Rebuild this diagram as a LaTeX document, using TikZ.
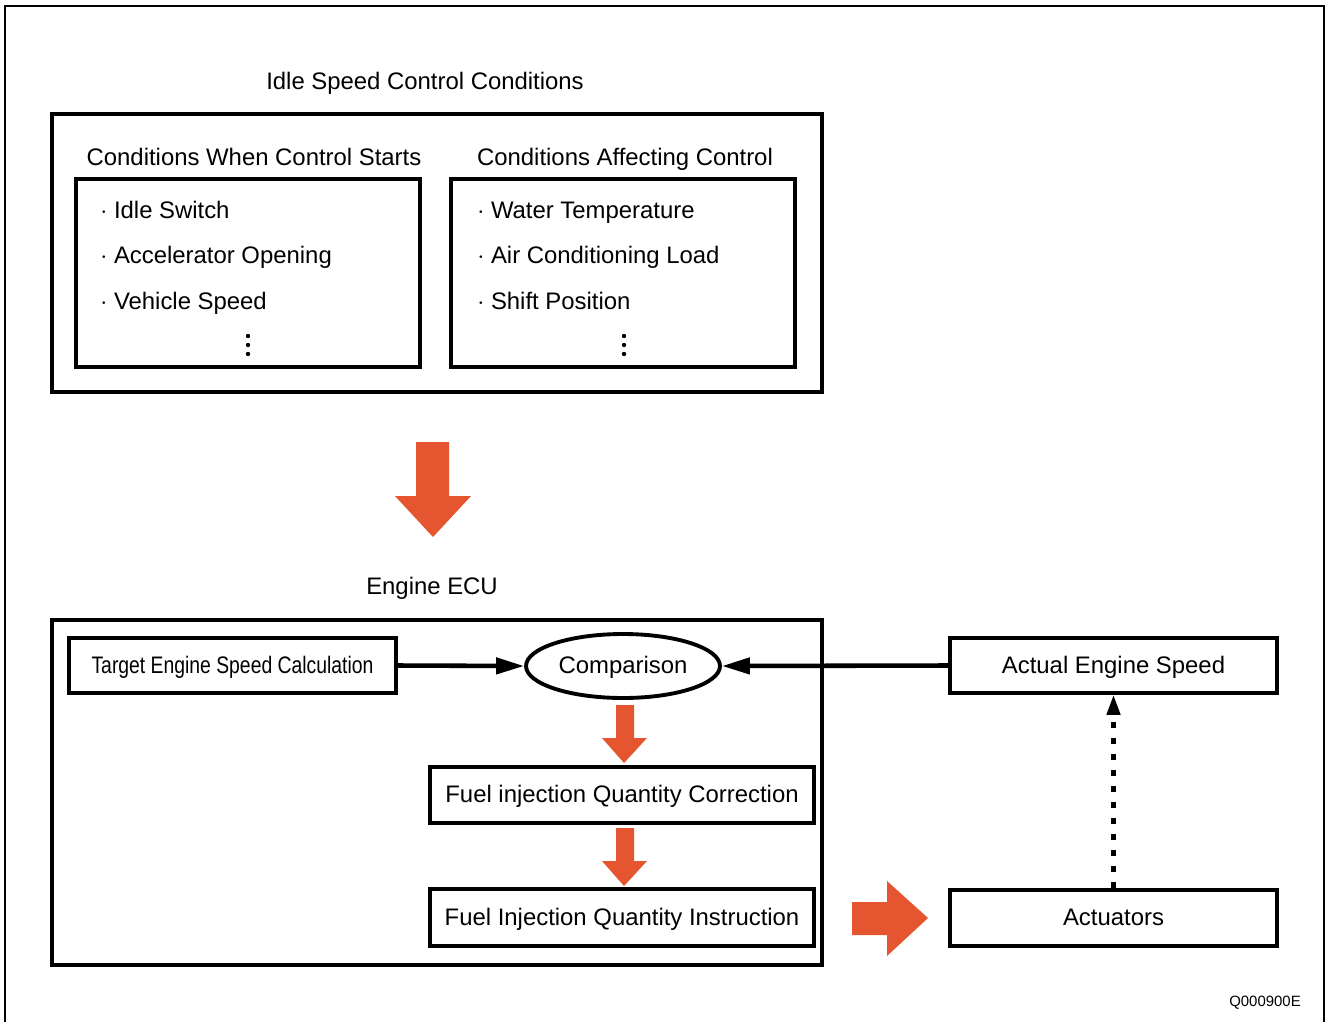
\documentclass[tikz,border=0pt]{standalone}
\usepackage{fontspec}
\setmainfont{Liberation Sans}
\newfontfamily\narrowfont[FakeStretch=0.81]{Liberation Sans}
\usepackage{tikz}
\usetikzlibrary{shapes.geometric, arrows.meta, calc}
\definecolor{flowred}{RGB}{228,85,48}

\begin{document}
\begin{tikzpicture}[x=0.02cm, y=-0.02cm,
    font=\fontsize{13.6}{16}\selectfont,
    every node/.append style={text height=0.95em, text depth=0.08em},
    frame/.style={draw, line width=2.4pt, inner sep=0pt},
    box/.style={draw, line width=2pt, inner sep=0pt, minimum height=1.1cm},
    item/.style={anchor=west, inner sep=0pt},
    link/.style={line width=2.6pt, -{Triangle[length=0.56cm, width=0.32cm]}},
    bigarrow/.style={fill=flowred}]
    \useasboundingbox (0,0) rectangle (1327,1021);

    % Outer frame
    \draw[line width=1.2pt] (5,1030) -- (5,6) -- (1324,6) -- (1324,1030);

    % Idle speed control conditions
    \node (idletitle) at (425,82) {Idle Speed Control Conditions};
    \node[frame, minimum width=15.4cm, minimum height=5.56cm] (idlebox) at (437,253) {};

    \node (starttitle) at (254,158) {Conditions When Control Starts};
    \node[box, minimum width=6.88cm, minimum height=3.76cm] (startbox) at (248,273) {};
    \node[item] (idlesw) at (100,211) {$\cdot$ Idle Switch};
    \node[item] (accel) at (100,256) {$\cdot$ Accelerator Opening};
    \node[item] (vspeed) at (100,302) {$\cdot$ Vehicle Speed};

    \node (affecttitle) at (625,158) {Conditions Affecting Control};
    \node[box, minimum width=6.88cm, minimum height=3.76cm] (affectbox) at (623,273) {};
    \node[item] (water) at (477,211) {$\cdot$ Water Temperature};
    \node[item] (aircon) at (477,256) {$\cdot$ Air Conditioning Load};
    \node[item] (shift) at (477,302) {$\cdot$ Shift Position};

    % More conditions
    \foreach \cx in {248,624}
        \foreach \cy in {336,345,354}
            \fill (\cx,\cy) circle (2.2);

    % Red arrow to ECU
    \fill[bigarrow] (416,442) -- (449,442) -- (449,496) -- (471,496) -- (433,537)
        -- (395,496) -- (416,496) -- cycle;

    % Engine ECU
    \node (ecutitle) at (432,587) {Engine ECU};
    \node[frame, minimum width=15.4cm, minimum height=6.9cm] (ecubox) at (437,792.5) {};

    \node[box, minimum width=6.54cm, font=\narrowfont\fontsize{13.6}{16}\selectfont] (target) at (232.5,665.5)
        {Target Engine Speed Calculation};
    \node[ellipse, draw, line width=2.2pt, inner sep=0pt, minimum width=3.88cm, minimum height=1.28cm]
        (compare) at (623,666) {Comparison};
    \node[box, minimum width=7.68cm, minimum height=1.12cm] (correct) at (622,795)
        {Fuel injection Quantity Correction};
    \node[box, minimum width=7.68cm, minimum height=1.14cm] (instruct) at (622,917.5)
        {Fuel Injection Quantity Instruction};

    \node[box, minimum width=6.54cm] (actual) at (1113.5,665.5) {Actual Engine Speed};
    \node[box, minimum width=6.54cm, minimum height=1.12cm] (actuators) at (1113.5,918) {Actuators};

    % Connectors
    \draw[link] (target.east) -- (compare.west);
    \draw[link] (actual.west) -- (compare.east);
    \draw[line width=2.4pt, dash pattern=on 0.13cm off 0.19cm,
        -{Triangle[length=0.4cm, width=0.26cm]}] (actuators.north) -- (actual.south);

    % Small red arrows
    \foreach \ty in {705,828}
        \fill[bigarrow] (616,\ty) -- (634,\ty) -- ($(634,\ty)+(0,33)$) -- ($(647,\ty)+(0,33)$)
            -- ($(624,\ty)+(0,58)$) -- ($(602,\ty)+(0,33)$) -- ($(616,\ty)+(0,33)$) -- cycle;

    % Red arrow to actuators
    \fill[bigarrow] (852,902) -- (887,902) -- (887,881) -- (928,918) -- (887,956)
        -- (887,935) -- (852,935) -- cycle;

    \node[font=\fontsize{8.5}{10}\selectfont] (code) at (1265,999) {Q000900E};
\end{tikzpicture}
\end{document}
